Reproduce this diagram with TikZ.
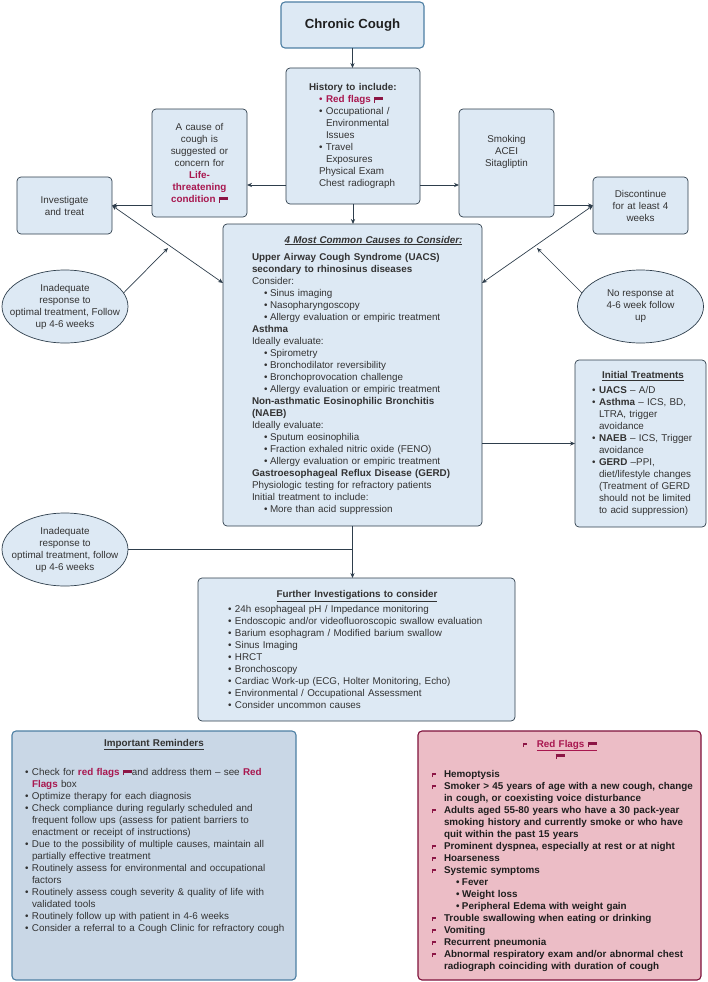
\documentclass[tikz,border=0pt]{standalone}
\usepackage{fontspec}
\setmainfont{Liberation Sans}
\usetikzlibrary{arrows.meta,shapes.geometric}
\definecolor{boxfill}{HTML}{DDE9F4}
\definecolor{remfill}{HTML}{C9D7E6}
\definecolor{redfill}{HTML}{ECBDC6}
\definecolor{crim}{HTML}{A8174F}
\definecolor{flagc}{HTML}{8C1645}
\definecolor{edge}{HTML}{2E3E4C}
\definecolor{blueedge}{HTML}{4D7FA3}
\definecolor{txt}{HTML}{333333}
\definecolor{dark}{HTML}{1F1F1F}
\newcommand\bigflag{\textcolor{flagc}{\rule{1pt}{5.5pt}\hspace{-1pt}\rule[2.2pt]{9pt}{3.3pt}}}
\newcommand\smallflag{\textcolor{flagc}{\rule{1pt}{4.5pt}\hspace{-1pt}\rule[2.1pt]{3.6pt}{2.4pt}}}
\newcommand\itm{\makebox[7pt][l]{\textbullet}}
\newcommand\subitm{\hspace*{12pt}\makebox[6pt][l]{\textbullet}}
\newcommand\hang{\hspace*{7pt}}
\newcommand\flg{\makebox[12pt][l]{\smallflag}}
\newcommand\hot[1]{\textcolor{crim}{\textbf{#1}}}
\tikzset{
  base/.style={draw=edge,fill=boxfill,line width=0.7pt,outer sep=0pt,text=txt,
    font=\fontsize{9.85}{12}\selectfont},
  box/.style={base,rounded corners=4pt,inner xsep=2pt,inner ysep=0pt},
  ctrbox/.style={box,align=center},
  lftbox/.style={box,align=left},
  oval/.style={base,ellipse,align=center,inner xsep=-16pt,inner ysep=0pt,minimum width=126pt,minimum height=73pt},
  conn/.style={draw=edge,line width=0.7pt,-{Stealth[length=5pt,width=4.2pt]}},
  both/.style={draw=edge,line width=0.7pt,{Stealth[length=5pt,width=4.2pt]}-{Stealth[length=5pt,width=4.2pt]}},
  plain/.style={draw=edge,line width=0.7pt}
}
\begin{document}
\begin{tikzpicture}[x=1pt,y=-1pt]
\useasboundingbox (0,0) rectangle (708,982);

\node[ctrbox,draw=blueedge,line width=1.1pt,minimum width=143pt,minimum height=46pt,
  font=\fontsize{13.2}{16}\selectfont\bfseries,text=dark] (chronic) at (352.5,25) {Chronic Cough};

\node[lftbox,minimum width=134pt,minimum height=136pt,text width=130pt] (hist) at (353,136)
{\leftskip=31pt
\hspace*{-10pt}\textbf{History to include:}\\
\textcolor{crim}{\itm}\hot{Red flags }\bigflag\\
\itm Occupational /\\
\hang Environmental\\
\hang Issues\\
\itm Travel\\
\hang Exposures\\
Physical Exam\\
Chest radiograph\par};

\node[ctrbox,minimum width=95pt,minimum height=108pt,text width=91pt] (cause) at (199.5,163)
{A cause of\\cough is\\suggested or\\concern for\\\hot{Life-}\\\hot{threatening}\\\hot{condition} \bigflag};

\node[ctrbox,minimum width=95pt,minimum height=57pt,text width=91pt] (inv) at (64.5,205.5)
{Investigate\\and treat};

\node[lftbox,minimum width=259pt,minimum height=302pt,text width=255pt] (main) at (352.5,375)
{\leftskip=27pt
\makebox[243pt][c]{\textbf{\textit{\underline{4 Most Common Causes to Consider:}}}}\\[5pt]
\textbf{Upper Airway Cough Syndrome (UACS)}\\
\textbf{secondary to rhinosinus diseases}\\
Consider:\\
\subitm Sinus imaging\\
\subitm Nasopharyngoscopy\\
\subitm Allergy evaluation or empiric treatment\\
\textbf{Asthma}\\
Ideally evaluate:\\
\subitm Spirometry\\
\subitm Bronchodilator reversibility\\
\subitm Bronchoprovocation challenge\\
\subitm Allergy evaluation or empiric treatment\\
\textbf{Non-asthmatic Eosinophilic Bronchitis}\\
\textbf{(NAEB)}\\
Ideally evaluate:\\
\subitm Sputum eosinophilia\\
\subitm Fraction exhaled nitric oxide (FENO)\\
\subitm Allergy evaluation or empiric treatment\\
\textbf{Gastroesophageal Reflux Disease (GERD)}\\
Physiologic testing for refractory patients\\
Initial treatment to include:\\
\subitm More than acid suppression\par};

\node[ctrbox,minimum width=95pt,minimum height=108pt,text width=91pt] (smoke) at (506.5,163)
{Smoking\\ACEI\\Sitagliptin\\[12pt]\mbox{}};

\node[ctrbox,minimum width=95pt,minimum height=57pt,text width=91pt] (disc) at (640.5,205.5)
{Discontinue\\for at least 4\\weeks};

\node[oval] (ell1) at (65,306.5) {Inadequate\\response to\\optimal treatment, Follow\\up 4-6 weeks};
\node[oval] (ell2) at (640.5,306.5) {No response at\\4-6 week follow\\up};
\node[oval] (ell3) at (65,549.5) {Inadequate\\response to\\optimal treatment, follow\\up 4-6 weeks};

\node[lftbox,minimum width=131pt,minimum height=167pt,text width=127pt] (init) at (640.5,443.5)
{\leftskip=15pt
\makebox[102pt][c]{\textbf{\underline{Initial Treatments}}}\\[3pt]
\itm\textbf{UACS} -- A/D\\
\itm\textbf{Asthma} -- ICS, BD,\\
\hang LTRA, trigger\\
\hang avoidance\\
\itm\textbf{NAEB} -- ICS, Trigger\\
\hang avoidance\\
\itm\textbf{GERD} --PPI,\\
\hang diet/lifestyle changes\\
\hang (Treatment of GERD\\
\hang should not be limited\\
\hang to acid suppression)\par};

\node[lftbox,minimum width=317pt,minimum height=143pt,text width=313pt] (further) at (356.5,649.5)
{\leftskip=28pt
\makebox[258pt][c]{\textbf{\underline{Further Investigations to consider}}}\\[3pt]
\itm 24h esophageal pH / Impedance monitoring\\
\itm Endoscopic and/or videofluoroscopic swallow evaluation\\
\itm Barium esophagram / Modified barium swallow\\
\itm Sinus Imaging\\
\itm HRCT\\
\itm Bronchoscopy\\
\itm Cardiac Work-up (ECG, Holter Monitoring, Echo)\\
\itm Environmental / Occupational Assessment\\
\itm Consider uncommon causes\par};

\node[lftbox,fill=remfill,draw=blueedge,line width=1.1pt,minimum width=284pt,minimum height=249pt,text width=280pt] (rem) at (154,855.5)
{\leftskip=11pt
\makebox[258pt][c]{\textbf{\underline{Important Reminders}}}\\[17pt]
\itm Check for \hot{red flags }\bigflag and address them -- see \hot{Red}\\
\hang\hot{Flags} box\\
\itm Optimize therapy for each diagnosis\\
\itm Check compliance during regularly scheduled and\\
\hang frequent follow ups (assess for patient barriers to\\
\hang enactment or receipt of instructions)\\
\itm Due to the possibility of multiple causes, maintain all\\
\hang partially effective treatment\\
\itm Routinely assess for environmental and occupational\\
\hang factors\\
\itm Routinely assess cough severity \& quality of life with\\
\hang validated tools\\
\itm Routinely follow up with patient in 4-6 weeks\\
\itm Consider a referral to a Cough Clinic for refractory cough\\[29pt]\mbox{}\par};

\node[lftbox,fill=redfill,draw=crim!75!black,line width=1.1pt,minimum width=283pt,minimum height=249pt,text width=279pt,text=dark] (red) at (559.5,855.5)
{\leftskip=12pt
\makebox[256pt][c]{\smallflag\hspace{10pt}\textcolor{crim}{\textbf{\underline{Red Flags \bigflag}}}}\\
\makebox[256pt][c]{\bigflag}\\[6pt]
\bfseries
\flg Hemoptysis\\
\flg Smoker > 45 years of age with a new cough, change\\
\hspace*{12pt}in cough, or coexisting voice disturbance\\
\flg Adults aged 55-80 years who have a 30 pack-year\\
\hspace*{12pt}smoking history and currently smoke or who have\\
\hspace*{12pt}quit within the past 15 years\\
\flg Prominent dyspnea, especially at rest or at night\\
\flg Hoarseness\\
\flg Systemic symptoms\\
\hspace*{12pt}\subitm Fever\\
\hspace*{12pt}\subitm Weight loss\\
\hspace*{12pt}\subitm Peripheral Edema with weight gain\\
\flg Trouble swallowing when eating or drinking\\
\flg Vomiting\\
\flg Recurrent pneumonia\\
\flg Abnormal respiratory exam and/or abnormal chest\\
\hspace*{12pt}radiograph coinciding with duration of cough\par};

\coordinate (levelA) at (0,185);
\coordinate (levelC) at (0,283);
\coordinate (levelM) at (0,443.5);
\coordinate (tipL) at (168,248);
\coordinate (tipR) at (537,248);

\draw[conn] (chronic.south) -- (chronic.south |- hist.north);
\draw[conn] (hist.south) -- (hist.south |- main.north);
\draw[conn] (hist.west |- levelA) -- (cause.east |- levelA);
\draw[conn] (hist.east |- levelA) -- (smoke.west |- levelA);
\draw[conn] (cause.west |- inv.east) -- (inv.east);
\draw[conn] (smoke.east |- disc.west) -- (disc.west);
\draw[both] (inv.east) -- (main.west |- levelC);
\draw[both] (disc.west) -- (main.east |- levelC);
\draw[conn] (ell1.13) -- (tipL);
\draw[conn] (ell2.167) -- (tipR);
\draw[conn] (main.east |- levelM) -- (init.west |- levelM);
\draw[conn] (main.south) -- (main.south |- further.north);
\draw[plain] (ell3.east) -- (main.south |- ell3.east);
\end{tikzpicture}
\end{document}
